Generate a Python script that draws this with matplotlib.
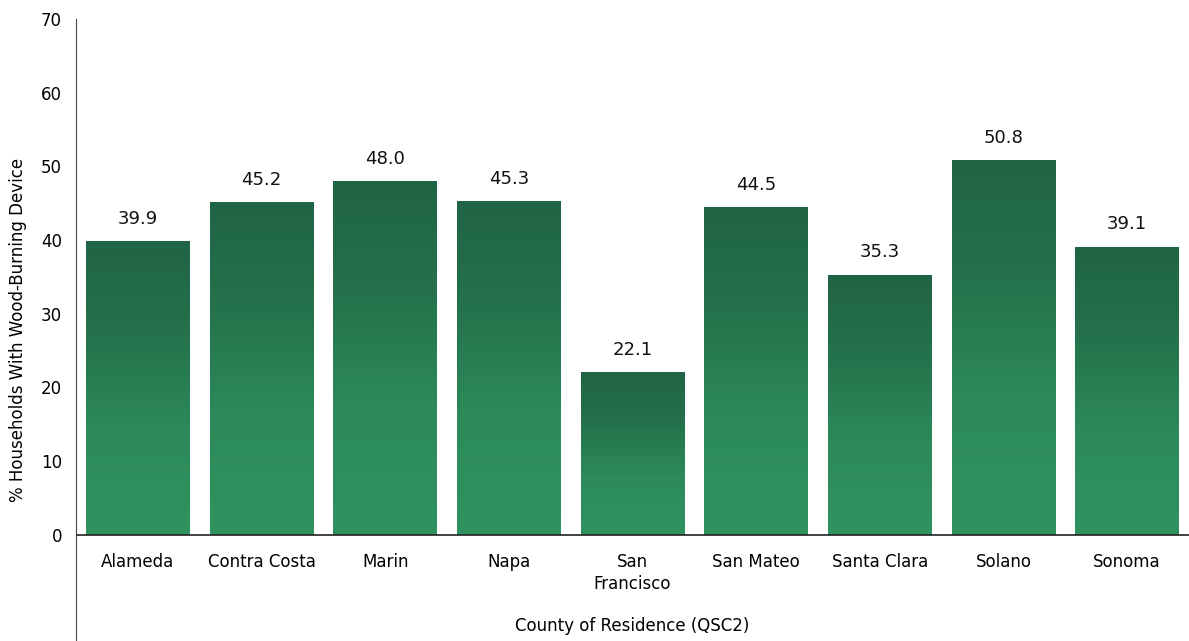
import numpy as np
import matplotlib
matplotlib.use('Agg')
import matplotlib.pyplot as plt
from matplotlib.colors import LinearSegmentedColormap

counties = ['Alameda', 'Contra Costa', 'Marin', 'Napa', 'San\nFrancisco',
            'San Mateo', 'Santa Clara', 'Solano', 'Sonoma']
pct = [39.9, 45.2, 48.0, 45.3, 22.1, 44.5, 35.3, 50.8, 39.1]
yticks = [0, 10, 20, 30, 40, 50, 60, 70]

plt.rcParams['font.family'] = 'DejaVu Sans'

fig = plt.figure(figsize=(11.89, 6.41), dpi=100)
ax = fig.add_axes([76/1189, 0, 1 - 76/1189, 1 - 19/641])

# vertical shading inside every bar, darker at the top
green = LinearSegmentedColormap.from_list(
    'grn', [(0, '#30935f'), (0.35, '#2d8a5a'), (0.7, '#24714b'), (1, '#206446')])
grad = np.linspace(0, 1, 256).reshape(-1, 1)

width = 0.84
x = np.arange(len(counties))
bars = ax.bar(x, pct, width=width, color='none', edgecolor='none')
for b, v in zip(bars, pct):
    x0 = b.get_x()
    im = ax.imshow(grad, cmap=green, origin='lower', aspect='auto',
                   extent=(x0, x0 + width, 0, v), zorder=2)
    im.set_clip_path(b)
    ax.text(b.get_x() + width / 2, v + 1.8, f'{v:.1f}', ha='center', va='bottom',
            fontsize=13, color='#111111')

ax.set_xlim(-0.5, len(counties) - 0.5)
ax.set_ylim(-14.4, 70)
ax.axhline(0, color='#222222', lw=1.2, zorder=3)

for s in ['top', 'right', 'bottom']:
    ax.spines[s].set_visible(False)
ax.spines['left'].set_color('#444444')

ax.set_yticks(yticks)
ax.set_yticklabels([str(t) for t in yticks], fontsize=12)
ax.tick_params(axis='y', length=0, pad=10)
ax.set_xticks([])
for xi, name in zip(x, counties):
    ax.text(xi, -2.4, name, ha='center', va='top', fontsize=12, linespacing=1.3)

ax.text(len(counties) / 2 - 0.5, -12.3, 'County of Residence (QSC2)', ha='center',
        va='center', fontsize=12)
ax.set_ylabel('% Households With Wood-Burning Device', fontsize=12, labelpad=10)

fig.savefig('out.png', dpi=100)
